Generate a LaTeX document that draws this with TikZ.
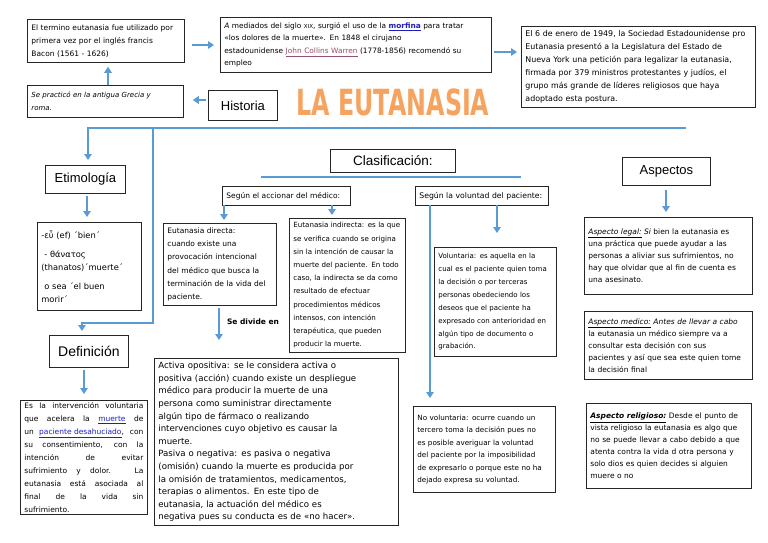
\documentclass[tikz,border=0pt]{standalone}
\usepackage{fontspec}
\usepackage{graphicx}
\setmainfont{DejaVu Sans}
\newfontfamily\hd{Liberation Sans}
\usetikzlibrary{arrows.meta}
\definecolor{lblue}{HTML}{5B9BD5}
\definecolor{ttl}{HTML}{F5A35E}
\definecolor{lnk}{HTML}{1F1FBF}
\definecolor{vis}{HTML}{954F72}
\newcommand{\fs}[2]{\fontsize{#1}{#2}\selectfont}
\newcommand{\lk}[1]{\textcolor{lnk}{\underline{#1}}}
\tikzset{
 box/.style={draw=black!85, line width=0.8pt, inner xsep=4pt, inner ysep=2pt, align=left, anchor=north west},
 head/.style={draw=black!85, line width=0.8pt, anchor=north west, align=center, inner sep=0pt},
 arr/.style={draw=lblue, line width=2.4pt, -{Triangle[width=7.5pt,length=6pt]}},
 bline/.style={draw=lblue, line width=2.6pt},
}
\begin{document}
\begin{tikzpicture}[x=1pt,y=-1pt]
\useasboundingbox (0,0) rectangle (768,543);
\fill[white] (0,0) rectangle (768,543);

% top row
\node[box, minimum width=157pt, minimum height=43pt, text width=149pt, font=\fs{7.5}{13}] (b1) at (27,19)
 {El termino eutanasia fue utilizado por\\primera vez por el inglés francis\\Bacon (1561 - 1626)};
\node[box, minimum width=271pt, minimum height=55pt, text width=263pt, font=\fs{7.4}{12.3}] (b2) at (220,17)
 {\textit{A} mediados del siglo \scalebox{0.75}{XIX}, surgió el uso de la \lk{\textbf{morfina}} para tratar\\«los dolores de la muerte». En 1848 el cirujano\\estadounidense \textcolor{vis}{\underline{John Collins Warren}} (1778-1856) recomendó su\\empleo};
\node[box, minimum width=234pt, minimum height=81pt, text width=226pt, font=\fs{7.9}{13}] (b3) at (521,26)
 {El 6 de enero de 1949, la Sociedad Estadounidense pro\\Eutanasia presentó a la Legislatura del Estado de\\Nueva York una petición para legalizar la eutanasia,\\firmada por 379 ministros protestantes y judíos, el\\grupo más grande de líderes religiosos que haya\\adoptado esta postura.};
\node[box, minimum width=156pt, minimum height=32pt, text width=148pt, font=\itshape\fs{7}{13}] (b4) at (27,85)
 {Se practicó en la antigua Grecia y\\roma.};
\node[head, minimum width=69pt, minimum height=30pt, font=\hd\fs{13}{15}] (hist) at (208,90) {Historia};
\node[font=\bfseries\fs{36}{36}, text=ttl, inner sep=0pt] (title) at (393,102) {\scalebox{0.66}[1]{LA EUTANASIA}};

\coordinate (p1) at (192,45);
\draw[arr, shorten >=6pt] (p1) -- (p1 -| b2.west);
\coordinate (p2) at (494,52);
\draw[arr, shorten >=4pt] (p2) -- (p2 -| b3.west);
\coordinate (p3) at (108,85);
\draw[arr, shorten >=4pt] (p3) -- (p3 |- b1.south);
\coordinate (p4) at (206,100);
\draw[arr, shorten >=9pt] (p4) -- (p4 -| b4.east);

% main line
\draw[bline] (88,128) -- (686,128);
\coordinate (m1) at (88,127);
\draw[arr, shorten >=5pt] (m1) -- (m1 |- 0,165);
\coordinate (m2) at (153,127);
\coordinate (m3) at (82,323);
\draw[bline] (m2) -- (m2 |- m3) -- ([xshift=-1.3pt]m3);

% left column
\node[head, minimum width=80pt, minimum height=28pt, font=\hd\fs{13}{15}] (etim) at (45,165) {Etimología};
\node[box, minimum width=104pt, minimum height=88pt, text width=96pt, font=\fs{8.3}{13}] (ety) at (37,222)
 {-εὖ (ef) ´bien´\\[6pt]\hspace{3pt}- θάνατος\\(thanatos)´muerte´\\[6pt]\hspace{3pt}o sea ´el buen\\morir´};
\coordinate (e1) at (87,196);
\draw[arr, shorten >=5pt] (e1) -- (e1 |- ety.north);
\draw[arr, shorten >=4pt] (m3) -- (m3 |- 0,335);
\node[head, minimum width=79pt, minimum height=32pt, font=\hd\fs{14}{16}] (defh) at (49,335) {Definición};
\node[box, minimum width=127pt, minimum height=113pt, text width=119pt, align=justify, font=\fs{7.5}{13}] (def) at (20,400)
 {Es la intervención voluntaria\linebreak que acelera la \lk{muerte} de\linebreak un \lk{paciente desahuciado}, con\linebreak su consentimiento, con la\linebreak intención de evitar\linebreak sufrimiento y dolor. La\linebreak eutanasia está asociada al\linebreak final de la vida sin\linebreak sufrimiento.};
\coordinate (d1) at (84,370);
\draw[arr, shorten >=6pt] (d1) -- (d1 |- def.north);

% classification
\node[head, minimum width=125pt, minimum height=23pt, font=\hd\fs{13.5}{15}] (clas) at (330,149) {Clasificación:};
\draw[bline] (261,177) -- (521,177);
\node[box, minimum width=128pt, minimum height=19pt, text width=120pt, font=\fs{7.5}{10}] (acc) at (222,186) {Según el accionar del médico:};
\node[box, minimum width=133pt, minimum height=19pt, text width=125pt, font=\fs{7.7}{10}] (vol) at (415,186) {Según la voluntad del paciente:};
\node[box, minimum width=113pt, minimum height=82pt, text width=105pt, font=\fs{7.5}{13.3}] (dir) at (163,223)
 {Eutanasia directa:\\cuando existe una\\provocación intencional\\del médico que busca la\\terminación de la vida del\\paciente.};
\node[box, minimum width=116pt, minimum height=134pt, text width=108pt, font=\fs{7.1}{13.2}] (ind) at (289,218)
 {Eutanasia indirecta: es la que\\se verifica cuando se origina\\sin la intención de causar la\\muerte del paciente. En todo\\caso, la indirecta se da como\\resultado de efectuar\\procedimientos médicos\\intensos, con intención\\terapéutica, que pueden\\producir la muerte.};
\coordinate (c1) at (224,205);
\draw[arr, shorten >=3pt] (c1) -- (c1 |- dir.north);
\coordinate (c2) at (332,205);
\draw[arr, shorten >=3pt] (c2) -- (c2 |- ind.north);
\coordinate (s1) at (219,308);
\draw[arr, shorten >=18pt] (s1) -- (s1 |- 0,358);
\node[font=\bfseries\fs{7.5}{9}, inner sep=0pt] (sd) at (253,322) {Se divide en};
\node[box, minimum width=244pt, minimum height=167pt, text width=236pt, font=\fs{8.6}{12.6}] (act) at (154,358)
 {Activa opositiva: se le considera activa o\\positiva (acción) cuando existe un despliegue\\médico para producir la muerte de una\\persona como suministrar directamente\\algún tipo de fármaco o realizando\\intervenciones cuyo objetivo es causar la\\muerte.\\Pasiva o negativa: es pasiva o negativa\\(omisión) cuando la muerte es producida por\\la omisión de tratamientos, medicamentos,\\terapias o alimentos. En este tipo de\\eutanasia, la actuación del médico es\\negativa pues su conducta es de «no hacer».};

\node[box, minimum width=122pt, minimum height=109pt, text width=114pt, font=\fs{7.0}{12.9}] (volt) at (434,247)
 {Voluntaria: es aquella en la\\cual es el paciente quien toma\\la decisión o por terceras\\personas obedeciendo los\\deseos que el paciente ha\\expresado con anterioridad en\\algún tipo de documento o\\grabación.};
\node[box, minimum width=142pt, minimum height=86pt, text width=134pt, font=\fs{7.2}{12.5}] (novol) at (413,406)
 {No voluntaria: ocurre cuando un\\tercero toma la decisión pues no\\es posible averiguar la voluntad\\del paciente por la imposibilidad\\de expresarlo o porque este no ha\\dejado expresa su voluntad.};
\coordinate (v1) at (430,205);
\draw[arr, shorten >=8pt] (v1) -- (v1 |- novol.north);
\coordinate (v2) at (497,205);
\draw[arr, shorten >=14pt] (v2) -- (v2 |- volt.north);

% aspects
\node[head, minimum width=88pt, minimum height=28pt, font=\hd\fs{13}{15}] (asp) at (622,157) {Aspectos};
\node[box, minimum width=168pt, minimum height=77pt, text width=160pt, font=\fs{7.5}{12}] (leg) at (584,217)
 {\underline{\textit{Aspecto legal:}} \textit{Si} bien la eutanasia es\\una práctica que puede ayudar a las\\personas a aliviar sus sufrimientos, no\\hay que olvidar que al fin de cuenta es\\una asesinato.\\[10pt]};
\node[box, minimum width=168pt, minimum height=68pt, text width=160pt, font=\fs{7.5}{12}] (med) at (584,311)
 {\underline{\textit{Aspecto medico:}} \textit{Antes de llevar a cabo}\\la eutanasia un médico siempre va a\\consultar esta decisión con sus\\pacientes y así que sea este quien tome\\la decisión final};
\node[box, minimum width=165pt, minimum height=85pt, text width=157pt, font=\fs{7.5}{12}] (rel) at (586,403)
 {\underline{\textit{\textbf{Aspecto religioso:}}} Desde el punto de\\vista religioso la eutanasia es algo que\\no se puede llevar a cabo debido a que\\atenta contra la vida d otra persona y\\solo dios es quien decides si alguien\\muere o no};
\coordinate (a1) at (666,190);
\draw[arr, shorten >=5pt] (a1) -- (a1 |- leg.north);
\end{tikzpicture}
\end{document}
